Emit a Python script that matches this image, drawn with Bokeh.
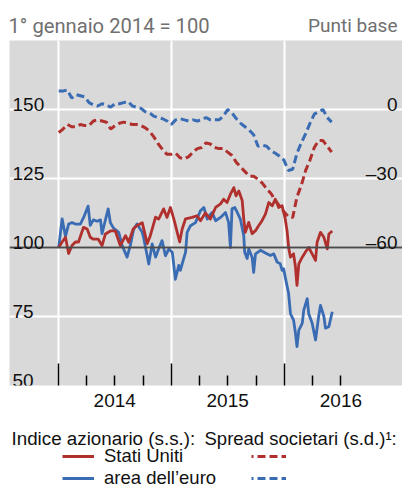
import pandas as pd
from bokeh.plotting import figure
from bokeh.layouts import column
from bokeh.models import (Range1d, FixedTicker, Label, Legend, LegendItem, Span,
                          LinearAxis)
from bokeh.embed import file_html
from bokeh.resources import INLINE

# ---- data ----
start = pd.Timestamp("2014-01-01")

# equity indices (1 Jan 2014 = 100): observation day (days after 1 Jan 2014) and value
us_eq_days = [0, 11, 22, 32, 43, 54, 64, 80, 92, 102, 112, 128, 140, 151, 167, 183,
              199, 216, 226, 241, 253, 270, 286, 296, 313, 323, 339, 350, 361, 372,
              383, 391, 399, 410, 431, 447, 458, 474, 490, 507, 523, 533, 544, 555,
              566, 573, 582, 593, 598, 603, 614, 625, 636, 646, 657, 668, 679, 690,
              700, 711, 722, 732, 738, 743, 749, 759, 765, 770, 776, 787, 797, 808,
              819, 830, 835, 846, 857, 868, 873, 884]
us_equity = [100, 102, 103.7, 97.8, 100.7, 102, 102, 107.3, 106.7, 103.7, 103, 103,
             100.7, 104.9, 106, 106, 100.7, 104.3, 101.9, 106.8, 108, 109, 101.4,
             104.3, 111, 110.3, 114, 110.9, 114.5, 110.4, 105.5, 102, 106.7, 110.4,
             110.9, 111.5, 109.7, 112.5, 110.3, 114.5, 115.8, 117.5, 116.3, 119.3,
             121.7, 118.7, 120.5, 117, 110.3, 105.5, 109.1, 105, 106.1, 107.9, 109.7,
             112.1, 116.3, 115.1, 117.5, 114.5, 115.1, 110.4, 106, 100, 96.5, 97.7,
             93, 86.3, 94.1, 96.5, 98.3, 100, 97.7, 95.3, 101.9, 105.5, 103.7, 99.5,
             104.9, 106]

ea_eq_days = [0, 11, 22, 32, 43, 54, 70, 81, 95, 102, 112, 124, 135, 140, 151, 160,
              167, 177, 194, 205, 221, 232, 242, 253, 270, 274, 286, 291, 302, 313,
              323, 334, 345, 356, 367, 372, 377, 388, 393, 410, 415, 426, 442, 458,
              469, 480, 490, 496, 507, 523, 539, 549, 555, 560, 569, 577, 587, 598,
              601, 609, 614, 625, 630, 636, 652, 668, 684, 695, 706, 716, 722, 727,
              732, 743, 749, 759, 765, 770, 776, 787, 792, 803, 808, 819, 830, 840,
              846, 857, 862, 873, 884]
ea_equity = [100, 110.4, 104, 108.5, 109, 108.5, 108.5, 111, 115, 108, 110, 109.5,
             110, 105, 110, 114, 109, 107, 105.5, 100.7, 96.5, 101, 106.5, 108.5,
             105.5, 103.7, 97, 94, 101.3, 96.5, 99.5, 102.5, 97, 99.5, 98.3, 93.5,
             88.5, 93.5, 91.7, 98.3, 105.5, 107.9, 109, 113.3, 114.5, 110.3, 112,
             112.7, 109.7, 110.9, 112.7, 109.1, 100, 114, 114.5, 112.7, 110.3, 104.3,
             98.3, 96, 99.5, 96.5, 91, 97.7, 99, 98, 97.1, 97.7, 94.7, 94.1, 91.7,
             92.3, 89.3, 83.3, 76, 73.7, 69, 64.1, 70.1, 72.5, 77.3, 81.5, 76, 72.6,
             66.5, 75, 79, 75, 70.8, 71.3, 76.7]

# corporate spreads (basis points), biweekly
spread_dates = pd.date_range("2014-01-01", periods=64, freq="14D")
us_spread = [-10, -8.5, -6.5, -7.5, -7.5, -6.5, -7, -7, -5, -4.5,
             -5, -5.5, -8.5, -7, -6, -5.5, -6, -6.5, -6.5, -7,
             -8, -9.5, -12, -15, -17.5, -19.5, -19.5, -19, -21, -21.5,
             -20.5, -18.5, -17, -16.5, -14.5, -15, -16.5, -17, -17, -18.5,
             -20, -23, -25, -27, -29, -29, -30.3, -32, -34.5, -36.5,
             -39.5, -42, -44.5, -46.5, -47, -38, -33, -26.5, -22, -16.5,
             -13.5, -13.5, -16, -18.5]
ea_spread = [8, 8, 8.5, 5, 6.5, 6, 5.5, 3, 2, 1.5,
             2.5, 2, 1, 2.5, 2.5, 3, 3.5, 1.5, 1, 0.5,
             -1, -1.5, -3, -3.5, -4, -5, -6.5, -4.5, -4, -4.5,
             -5, -4.5, -5, -4.5, -3.5, -4.5, -4.5, -4.5, -3, 0,
             -1.5, -4, -6, -7.5, -9, -11, -16, -15.5, -16, -18,
             -19, -20.3, -22, -26.5, -26, -19, -14.5, -10.5, -6, -2,
             -1, 0, -3.5, -5.5]

left_ticks = [50, 75, 100, 125, 150]
right_ticks = [0, -30, -60]
year_labels = ["2014", "2015", "2016"]
base_index = 100

us_eq_dates = start + pd.to_timedelta(us_eq_days, unit="D")
ea_eq_dates = start + pd.to_timedelta(ea_eq_days, unit="D")

# ---- styling ----
RED = "#b0302e"
BLUE = "#3a6cb4"
BG = "#d9d9d9"
TXT = "#111111"
NUM_FONT = "Liberation Sans"
TOP_FONT = "Roboto"
W = 402
FRAME_W = 393
FRAME_H = 345
DX = -10   # horizontal correction for the axis-less caption / legend strips
NO_BORDER = dict(min_border=0, min_border_left=0, min_border_right=0,
                 min_border_top=0, min_border_bottom=0)


def ms(s):
    return pd.Timestamp(s).value / 1e6


def bare(fig):
    fig.outline_line_color = None
    fig.grid.visible = False
    fig.background_fill_color = "white"
    fig.border_fill_color = "white"


# ---- top captions ----
top = figure(width=W, height=40, x_range=Range1d(0, 1), y_range=Range1d(0, 1),
             x_axis_location=None, y_axis_location=None,
             toolbar_location=None, output_backend="svg", **NO_BORDER)
bare(top)
top.add_layout(Label(x=9 + DX, x_units="screen", y=15, y_units="screen",
                     text="1° gennaio 2014 = 100", text_font=TOP_FONT,
                     text_font_size="20.2px", text_color="#707070",
                     text_baseline="alphabetic"))
top.add_layout(Label(x=398 + DX, x_units="screen", y=15, y_units="screen",
                     text="Punti base", text_font=TOP_FONT, text_font_size="19px",
                     text_color="#707070", text_baseline="alphabetic",
                     text_align="right"))

# ---- main chart ----
p = figure(width=W, height=FRAME_H + 30, x_axis_type="datetime", y_axis_location=None,
           toolbar_location=None, output_backend="svg",
           x_range=Range1d(ms("2013-07-26"), ms("2017-01-16")),
           y_range=Range1d(50, 175),
           min_border_left=9, min_border_right=0, min_border_top=0, min_border_bottom=30)
p.extra_y_ranges = {"right": Range1d(-120, 30)}
p.background_fill_color = BG
p.border_fill_color = "white"
p.outline_line_color = None

year_starts = [ms(f"{y}-01-01") for y in year_labels]
mid_years = [ms(f"{y}-07-01") for y in year_labels]
quarters = [ms(f"{y}-{m:02d}-01") for y in year_labels for m in (4, 7, 10)]
quarters = [q for q in quarters if q <= ms("2016-07-01")]

p.xgrid.ticker = FixedTicker(ticks=year_starts)
p.ygrid.ticker = FixedTicker(ticks=[75, 100, 125, 150])
p.xgrid.grid_line_color = "white"
p.ygrid.grid_line_color = "white"
p.xgrid.grid_line_width = 2
p.ygrid.grid_line_width = 2

ax = p.xaxis[0]
ax.ticker = FixedTicker(ticks=year_starts, minor_ticks=quarters)
ax.major_label_overrides = {t: "" for t in year_starts}
ax.axis_line_color = None
ax.major_tick_in = 22
ax.major_tick_out = 0
ax.minor_tick_in = 10
ax.minor_tick_out = 0
ax.major_tick_line_color = "black"
ax.minor_tick_line_color = "black"
ax.major_tick_line_width = 1.5
ax.minor_tick_line_width = 1.5
ax.major_label_standoff = 0

ax2 = LinearAxis(ticker=FixedTicker(ticks=mid_years, minor_ticks=[]),
                 major_label_overrides={m: y for m, y in zip(mid_years, year_labels)},
                 axis_line_color=None, major_tick_in=0, major_tick_out=0,
                 minor_tick_in=0, minor_tick_out=0, major_label_standoff=8,
                 major_label_text_font=NUM_FONT, major_label_text_font_size="19px",
                 major_label_text_color=TXT)
p.add_layout(ax2, "below")

p.add_layout(Span(location=base_index, dimension="width", line_color="#4a4a4a",
                  line_width=2))

r_us_s = p.line(spread_dates, us_spread, y_range_name="right", line_color=RED,
                line_width=3, line_dash="8 4")
r_ea_s = p.line(spread_dates, ea_spread, y_range_name="right", line_color=BLUE,
                line_width=3, line_dash="8 4")
r_ea = p.line(ea_eq_dates, ea_equity, line_color=BLUE, line_width=2.8, line_join="round")
r_us = p.line(us_eq_dates, us_equity, line_color=RED, line_width=2.8, line_join="round")

for v in left_ticks:
    p.add_layout(Label(x=3, x_units="screen", y=v, y_units="data", y_offset=5,
                       text=str(v), text_font=NUM_FONT, text_font_size="19px",
                       text_color=TXT, text_baseline="alphabetic"))
for v in right_ticks:
    txt = f"\u2013{abs(v)}" if v < 0 else str(v)
    p.add_layout(Label(x=FRAME_W - 5, x_units="screen", y=v, y_units="data",
                       y_range_name="right", y_offset=5, text=txt, text_align="right",
                       text_font=NUM_FONT, text_font_size="19px",
                       text_color=TXT, text_baseline="alphabetic"))

# ---- legend ----
LH = 74
leg = figure(width=W, height=LH, x_range=Range1d(0, 1), y_range=Range1d(0, 1),
             x_axis_location=None, y_axis_location=None,
             toolbar_location=None, output_backend="svg", **NO_BORDER)
bare(leg)
nan = float("nan")
k_us = leg.line(x=[0], y=[nan], line_color=RED, line_width=3)
k_ea = leg.line(x=[0], y=[nan], line_color=BLUE, line_width=3)
k_us_s = leg.line(x=[0], y=[nan], line_color=RED, line_width=3, line_dash="8 4",
                  line_dash_offset=6)
k_ea_s = leg.line(x=[0], y=[nan], line_color=BLUE, line_width=3, line_dash="8 4",
                  line_dash_offset=6)

leg.add_layout(Label(x=12 + DX, x_units="screen", y=LH - 23, y_units="screen",
                     text="Indice azionario (s.s.):", text_font=NUM_FONT,
                     text_font_size="18.8px", text_color=TXT, text_baseline="alphabetic"))
leg.add_layout(Label(x=205 + DX, x_units="screen", y=LH - 23, y_units="screen",
                     text="Spread societari (s.d.)¹:", text_font=NUM_FONT,
                     text_font_size="18.5px", text_color=TXT, text_baseline="alphabetic"))


def make_legend(items, loc, gw):
    return Legend(items=items, location=loc, glyph_width=gw, glyph_height=22,
                  label_height=22, label_standoff=10, spacing=0, padding=0, margin=0,
                  border_line_color=None, background_fill_alpha=0,
                  label_text_font=NUM_FONT, label_text_font_size="18.5px",
                  label_text_color=TXT)


leg.add_layout(make_legend([LegendItem(label="Stati Uniti", renderers=[k_us]),
                            LegendItem(label="area dell’euro", renderers=[k_ea])],
                           (63 + DX, 0), 32))
leg.add_layout(make_legend([LegendItem(label=" ", renderers=[k_us_s]),
                            LegendItem(label="  ", renderers=[k_ea_s])],
                           (252 + DX, 0), 35))

layout = column(top, p, leg, spacing=0)
open("out.html", "w").write(file_html(layout, INLINE))
